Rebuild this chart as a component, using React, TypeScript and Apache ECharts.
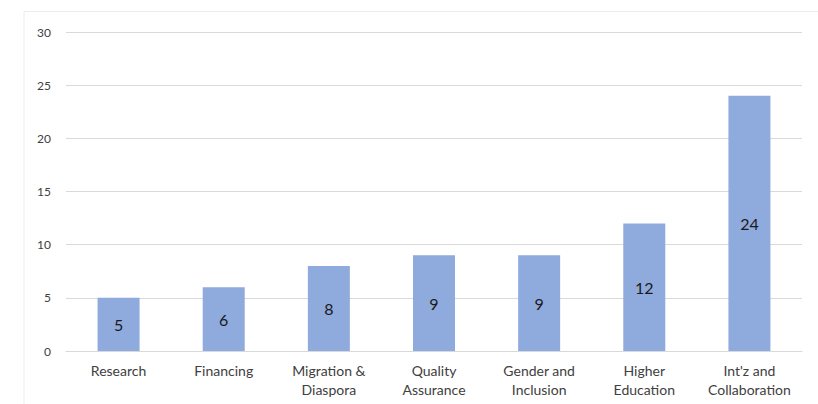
import React, { useEffect, useRef } from "react";
import * as echarts from "echarts";

const categories = [
  "Research",
  "Financing",
  "Migration &\nDiaspora",
  "Quality\nAssurance",
  "Gender and\nInclusion",
  "Higher\nEducation",
  "Int'z and\nCollaboration",
];
const values = [5, 6, 8, 9, 9, 12, 24];
const yTicks = { min: 0, max: 30, interval: 5 };

export default function App() {
  const ref = useRef<HTMLDivElement>(null);
  useEffect(() => {
    if (!ref.current) return;
    const chart = echarts.init(ref.current, null, { renderer: "svg" });
    chart.setOption({
      animation: false,
      backgroundColor: "#ffffff",
      textStyle: { fontFamily: "Lato, 'Open Sans', sans-serif" },
      graphic: [
        {
          type: "polyline",
          shape: { points: [[24, 404], [24, 11.5], [818, 11.5]] },
          style: { stroke: "#ececec", lineWidth: 1, fill: null },
          silent: true,
        },
      ],
      grid: { left: 66, right: 16, top: 32, bottom: 53 },
      xAxis: {
        type: "category",
        data: categories,
        axisTick: { show: false },
        axisLine: { show: true, lineStyle: { color: "#d9d9d9", width: 1 } },
        axisLabel: {
          color: "#404040",
          fontSize: 14,
          margin: 10,
          lineHeight: 19,
          interval: 0,
          fontFamily: "Lato, 'Open Sans', sans-serif",
        },
      },
      yAxis: {
        type: "value",
        min: yTicks.min,
        max: yTicks.max,
        interval: yTicks.interval,
        axisLine: { show: false },
        axisTick: { show: false },
        splitLine: { lineStyle: { color: "#d9d9d9", width: 1 } },
        axisLabel: {
          color: "#404040",
          fontSize: 12,
          margin: 15,
          fontFamily: "Lato, 'Open Sans', sans-serif",
        },
      },
      series: [
        {
          type: "bar",
          data: values,
          barWidth: 42,
          itemStyle: { color: "#8faadc" },
          label: {
            show: true,
            position: "inside",
            color: "#1a1a1a",
            fontSize: 16,
            fontFamily: "Lato, 'Open Sans', sans-serif",
          },
        },
      ],
    });
    return () => chart.dispose();
  }, []);
  return (
    <div
      ref={ref}
      style={{ position: "fixed", left: 0, top: 0, width: 818, height: 404 }}
    />
  );
}
